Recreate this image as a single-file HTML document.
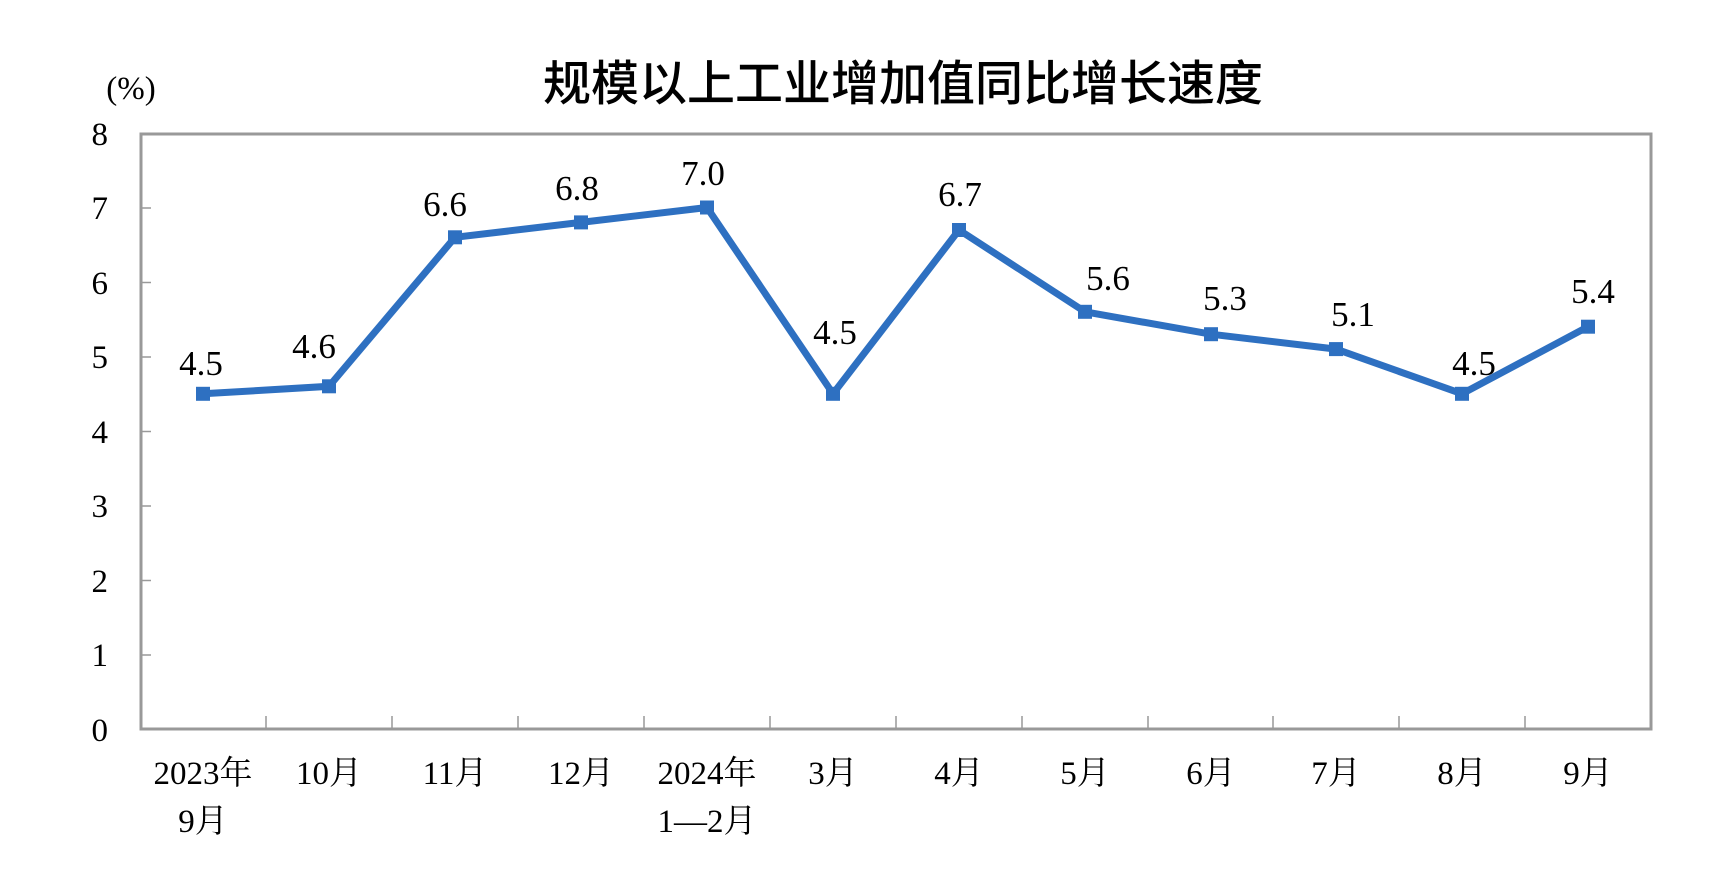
<!DOCTYPE html>
<html><head><meta charset="utf-8"><style>
html,body{margin:0;padding:0;background:#fff;width:1728px;height:888px;overflow:hidden}
</style></head><body>
<svg width="1728" height="888" xmlns="http://www.w3.org/2000/svg">
<text x="903" y="100" text-anchor="middle" font-family="'Noto Sans CJK SC',sans-serif" font-weight="500" font-size="48" fill="#000">规模以上工业增加值同比增长速度</text>
<text x="131" y="99" text-anchor="middle" font-family="'Liberation Serif',serif" font-size="33" fill="#000">(%)</text>
<g stroke="#999" stroke-width="1.5">
<line x1="141" y1="208" x2="151" y2="208"/><line x1="141" y1="282.5" x2="151" y2="282.5"/><line x1="141" y1="357" x2="151" y2="357"/><line x1="141" y1="431.5" x2="151" y2="431.5"/><line x1="141" y1="506" x2="151" y2="506"/><line x1="141" y1="580.5" x2="151" y2="580.5"/><line x1="141" y1="655" x2="151" y2="655"/>
<line x1="266" y1="716" x2="266" y2="729"/><line x1="392" y1="716" x2="392" y2="729"/><line x1="518" y1="716" x2="518" y2="729"/><line x1="644" y1="716" x2="644" y2="729"/><line x1="770" y1="716" x2="770" y2="729"/><line x1="896" y1="716" x2="896" y2="729"/><line x1="1022" y1="716" x2="1022" y2="729"/><line x1="1148" y1="716" x2="1148" y2="729"/><line x1="1273" y1="716" x2="1273" y2="729"/><line x1="1399" y1="716" x2="1399" y2="729"/><line x1="1525" y1="716" x2="1525" y2="729"/>
</g>
<rect x="141" y="134" width="1510" height="595" fill="none" stroke="#999" stroke-width="3"/>
<g font-family="'Liberation Serif',serif" font-size="33" fill="#000" text-anchor="end">
<text x="108" y="145">8</text><text x="108" y="219">7</text><text x="108" y="294">6</text><text x="108" y="368">5</text><text x="108" y="443">4</text><text x="108" y="517">3</text><text x="108" y="592">2</text><text x="108" y="666">1</text><text x="108" y="741">0</text>
</g>
<g font-family="'Liberation Serif','Noto Serif CJK SC',serif" font-size="33" fill="#000" text-anchor="middle">
<text x="203" y="784">2023年</text><text x="203" y="832">9月</text>
<text x="329" y="784">10月</text><text x="455" y="784">11月</text><text x="581" y="784">12月</text>
<text x="707" y="784">2024年</text><text x="707" y="832">1—2月</text>
<text x="833" y="784">3月</text><text x="959" y="784">4月</text><text x="1085" y="784">5月</text><text x="1211" y="784">6月</text><text x="1336" y="784">7月</text><text x="1462" y="784">8月</text><text x="1588" y="784">9月</text>
</g>
<polyline fill="none" stroke="#2e70c1" stroke-width="7" stroke-linejoin="miter" points="203,393.8 329,386.3 455,237.3 581,222.4 707,207.5 833,393.8 959,230 1085,311.8 1211,334.2 1336,349.1 1462,393.8 1588,326.7"/>
<g fill="#2e70c1">
<rect x="196" y="386.8" width="14" height="14"/><rect x="322" y="379.3" width="14" height="14"/><rect x="448" y="230.3" width="14" height="14"/><rect x="574" y="215.4" width="14" height="14"/><rect x="700" y="200.5" width="14" height="14"/><rect x="826" y="386.8" width="14" height="14"/><rect x="952" y="223" width="14" height="14"/><rect x="1078" y="304.8" width="14" height="14"/><rect x="1204" y="327.2" width="14" height="14"/><rect x="1329" y="342.1" width="14" height="14"/><rect x="1455" y="386.8" width="14" height="14"/><rect x="1581" y="319.7" width="14" height="14"/>
</g>
<g font-family="'Liberation Serif',serif" font-size="35" fill="#000" text-anchor="middle">
<text x="201" y="375">4.5</text><text x="314" y="358">4.6</text><text x="445" y="216">6.6</text><text x="577" y="200">6.8</text><text x="703" y="185">7.0</text><text x="835" y="344">4.5</text><text x="960" y="206">6.7</text><text x="1108" y="290">5.6</text><text x="1225" y="310">5.3</text><text x="1353" y="326">5.1</text><text x="1474" y="375">4.5</text><text x="1593" y="303">5.4</text>
</g>
</svg>
</body></html>
